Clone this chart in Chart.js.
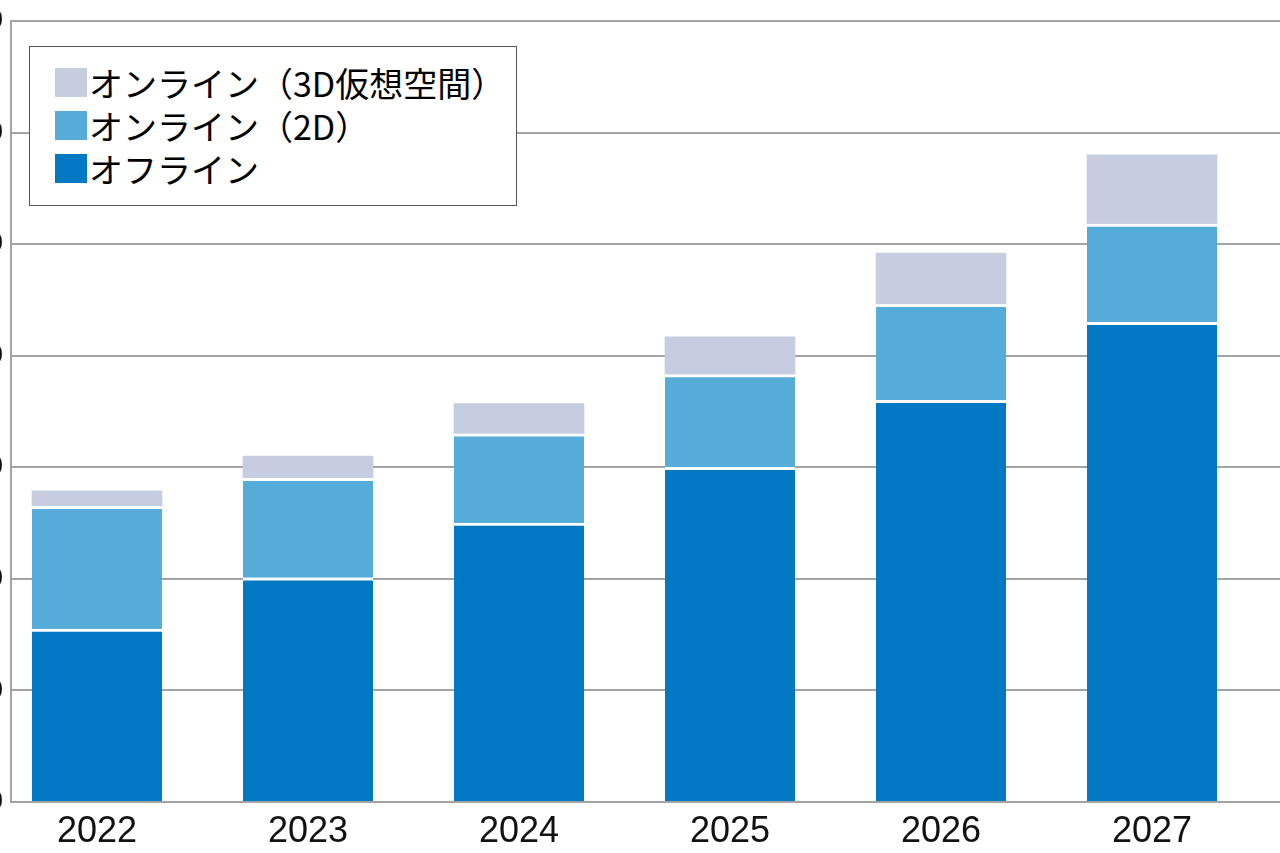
<!DOCTYPE html>
<html>
<head>
<meta charset="utf-8">
<script src="https://cdn.jsdelivr.net/npm/chart.js@4/dist/chart.umd.min.js"></script>
<style>
  html, body { margin: 0; padding: 0; background: #fff; overflow: hidden; }
  body { width: 1280px; height: 853px; position: relative; }
  #wrap { position: absolute; left: -100px; top: 0; width: 1400px; height: 853px; }
  #legend {
    position: absolute; left: 29px; top: 46px; width: 486px; height: 158px;
    border: 1.5px solid #555; background: #fff; box-sizing: content-box;
    font-family: "Noto Sans CJK JP", sans-serif; font-size: 34px; color: #000;
  }
  #legend .row { position: absolute; left: 25px; height: 43px; display: flex; align-items: center; white-space: nowrap; }
  #legend .sw { width: 32px; height: 29px; margin-right: 2px; flex: none; }
</style>
</head>
<body>
<div id="wrap"><canvas id="chart" width="1400" height="853"></canvas></div>
<div id="legend"></div>
<script>
// years and market size by channel (one gridline = 100)
var years = ['2022', '2023', '2024', '2025', '2026', '2027'];
var offline = [155, 201, 250, 300, 360, 430];
var online2D = [110, 89, 80, 83, 86, 88];
var online3D = [14, 20, 27, 34, 46, 62];
var yTicks = [0, 100, 200, 300, 400, 500, 600, 700];

var gridColor = '#a3a3a3';

function points(arr) {
    return arr.map(function (v, i) { return { x: i, y: v }; });
}

var ctx = document.getElementById('chart').getContext('2d');
var chart = new Chart(ctx, {
    type: 'bar',
    data: {
        datasets: [{
            label: 'オフライン',
            data: points(offline),
            backgroundColor: '#0278c2',
            borderColor: '#fff',
            borderWidth: { top: 3, left: 0, right: 0, bottom: 0 }
        }, {
            label: 'オンライン（2D）',
            data: points(online2D),
            backgroundColor: '#56acd9',
            borderColor: '#fff',
            borderWidth: { top: 3, left: 0, right: 0, bottom: 0 }
        }, {
            label: 'オンライン（3D仮想空間）',
            data: points(online3D),
            backgroundColor: '#c6cde0',
            borderWidth: 0
        }]
    },
    options: {
        responsive: false,
        animation: false,
        layout: { padding: { top: 19, right: 0, left: 0, bottom: 0 } },
        barThickness: 130,
        plugins: { legend: { display: false }, tooltip: { enabled: false } },
        scales: {
            x: {
                type: 'linear',
                stacked: true,
                offset: false,
                bounds: 'ticks',
                min: -0.4076,
                max: 5.7014,
                afterBuildTicks: function (scale) {
                    scale.ticks = years.map(function (y, i) { return { value: i }; });
                },
                afterFit: function (scale) { scale.height = 51; },
                grid: { display: false, drawTicks: false },
                border: { display: true, color: gridColor, width: 2 },
                ticks: {
                    padding: 8,
                    color: '#111',
                    font: { family: '"Liberation Sans", Arial, sans-serif', size: 36 },
                    callback: function (v) { return years[v]; }
                }
            },
            y: {
                stacked: true,
                min: 0,
                max: 700,
                afterBuildTicks: function (scale) {
                    scale.ticks = yTicks.map(function (v) { return { value: v }; });
                },
                afterFit: function (scale) { scale.width = 111; },
                grid: { color: gridColor, lineWidth: 2, drawTicks: false },
                border: { display: true, color: gridColor, width: 2 },
                ticks: {
                    padding: 8,
                    color: '#111',
                    font: { family: '"Liberation Sans", Arial, sans-serif', size: 26, lineHeight: 1 }
                }
            }
        }
    }
});

// legend box, top item = top of the stack
var legend = document.getElementById('legend');
chart.data.datasets.slice().reverse().forEach(function (ds, i) {
    var row = document.createElement('div');
    row.className = 'row';
    row.style.top = (14 + i * 43) + 'px';
    var sw = document.createElement('span');
    sw.className = 'sw';
    sw.style.background = ds.backgroundColor;
    var txt = document.createElement('span');
    txt.textContent = ds.label;
    row.appendChild(sw);
    row.appendChild(txt);
    legend.appendChild(row);
});
</script>
</body>
</html>
